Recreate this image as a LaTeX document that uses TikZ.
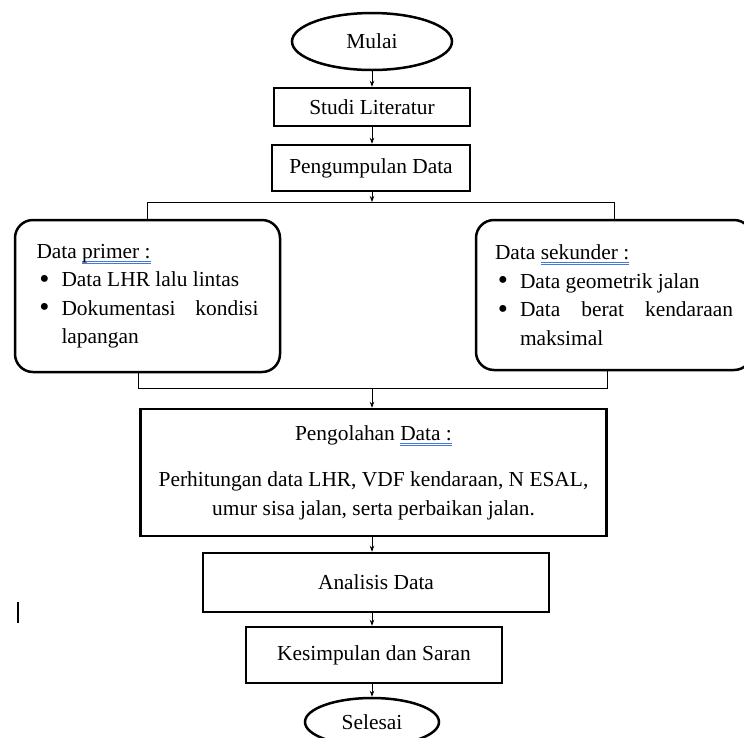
\documentclass[tikz,border=0pt]{standalone}
\usepackage{fontspec}
\setmainfont{Liberation Serif}
\usepackage{graphicx}
\usepackage{enumitem}
\usetikzlibrary{calc,positioning,arrows.meta,shapes.geometric}

\definecolor{spellblue}{RGB}{70,120,215}
\newcommand{\spellmark}[1]{\setbox0=\hbox{#1}\rlap{\color{spellblue}\rule[-3.5pt]{\wd0}{0.7pt}}\rlap{\color{spellblue}\rule[-5.5pt]{\wd0}{0.7pt}}\box0}
\newcommand{\bigdot}{\raisebox{-1.6pt}{\scalebox{1.35}{\textbullet}}}
\hyphenpenalty=10000

\begin{document}
\begin{tikzpicture}[x=1pt,y=1pt,>={Stealth[length=6pt,width=4.5pt]},
  every node/.style={font=\fontsize{21.4}{28.5}\selectfont},
  termnode/.style={draw,ellipse,line width=2.5pt,inner sep=0pt},
  procbox/.style={draw,rectangle,line width=2.5pt,inner sep=0pt},
  databox/.style={draw,rounded corners=18pt,line width=2.5pt,inner xsep=21.5pt,inner ysep=0pt,minimum height=152pt,text width=222pt,align=justify},
  flow/.style={->,line width=0.8pt},
  link/.style={line width=0.8pt}]

\useasboundingbox (0,0) rectangle (744,-737);

% Nodes
\node[termnode,minimum width=160,minimum height=57] (mulai) at (372,-41.5) {Mulai};
\node[procbox,minimum width=196,minimum height=38] (studi) at (372,-107) {Studi Literatur};
\node[procbox,minimum width=198,minimum height=46] (kumpul) at (371,-168) {Pengumpulan Data};

% The two data boxes
\node[databox] (primer) at (147.5,-296) {\noindent Data \spellmark{primer :}
  \begin{itemize}[nosep,leftmargin=25pt,labelsep=12pt,label=\bigdot]
  \item Data LHR lalu lintas
  \item Dokumentasi kondisi lapangan
  \end{itemize}};
\node[databox,text width=238pt,inner xsep=19pt,minimum height=150pt] (sekunder) at (614,-295) {\noindent Data \spellmark{sekunder :}
  \begin{itemize}[nosep,leftmargin=25pt,labelsep=12pt,label=\bigdot]
  \item Data geometrik jalan
  \item Data berat kendaraan maksimal
  \end{itemize}};

% The processing steps
\node[procbox,minimum width=466,minimum height=127,align=center] (olah) at (373.5,-472.5) {Pengolahan \spellmark{Data :}\\[18pt]Perhitungan data LHR, VDF kendaraan, N ESAL,\\umur sisa jalan, serta perbaikan jalan.};
\node[procbox,minimum width=346,minimum height=59] (analisis) at (376,-582.5) {Analisis Data};
\node[procbox,minimum width=256,minimum height=56] (simpul) at (374,-655) {Kesimpulan dan Saran};
\node[termnode,minimum width=134,minimum height=48] (selesai) at (372,-722) {Selesai};

% Branch points
\coordinate (pisahL) at (147.5,-202);
\coordinate (pisahR) at (614,-202);
\coordinate (gabungL) at (138,-388);
\coordinate (gabungR) at (607,-388);

% The arrows
\draw[flow] (mulai.south) -- (mulai.south |- studi.north);
\draw[flow] (studi.south) -- (studi.south |- kumpul.north);
\draw[flow] (kumpul.south -| studi) -- (studi |- pisahL);
\draw[link] (primer.north) -- (pisahL) -- (pisahR) -- (sekunder.north);
\draw[link] (primer.south -| gabungL) -- (gabungL) -- (gabungR) -- (sekunder.south -| gabungR);
\draw[flow] (studi |- gabungL) -- (studi |- olah.north);
\draw[flow] (studi |- olah.south) -- (studi |- analisis.north);
\draw[flow] (studi |- analisis.south) -- (studi |- simpul.north);
\draw[flow] (studi |- simpul.south) -- (selesai.north);

% Stray cursor mark
\draw[line width=1.3pt] (18,-602) -- (18,-623);

\end{tikzpicture}
\end{document}
